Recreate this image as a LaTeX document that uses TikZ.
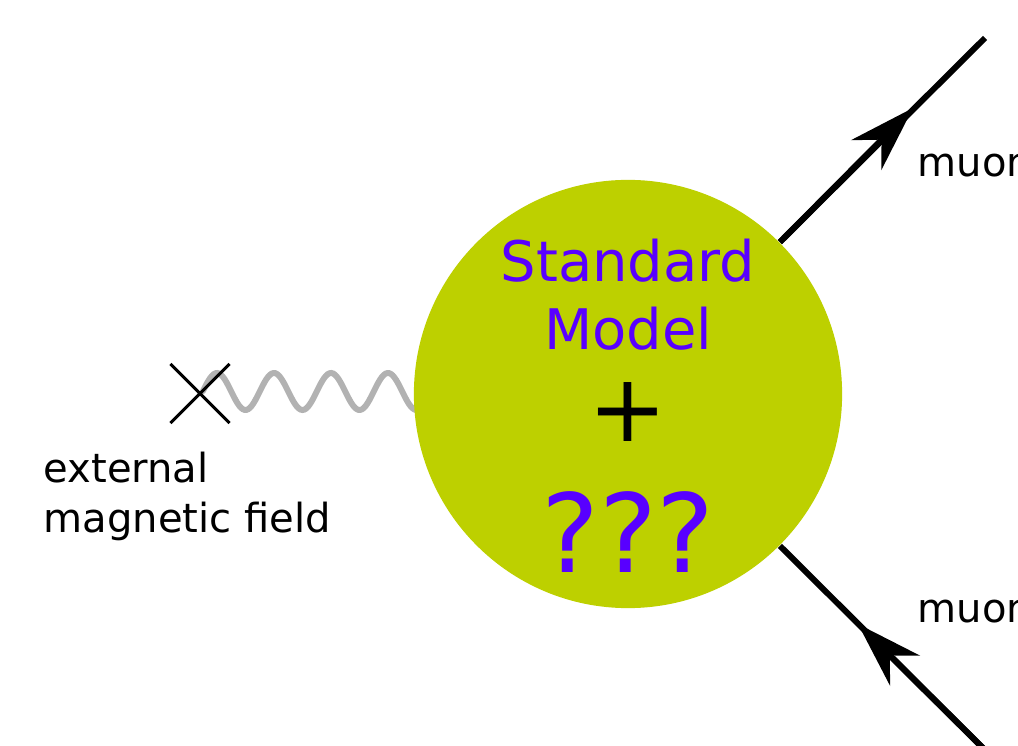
\documentclass[tikz,border=0pt]{standalone}
\usepackage{fontspec}
\setmainfont{DejaVu Sans}
\usetikzlibrary{arrows.meta,shapes.misc}
\definecolor{smgreen}{RGB}{189,208,0}
\definecolor{smpurple}{RGB}{88,0,255}
\definecolor{wavegray}{RGB}{178,178,178}
\begin{document}
\begin{tikzpicture}[x=0.01cm,y=-0.01cm,
  lbl/.style={font=\fontsize{11.4}{14.2}\selectfont,inner sep=0pt},
  fermion/.style={line width=1.7pt},
  tip/.style={-{Stealth[length=18.8pt,width=12pt]}}]
  \useasboundingbox (0,0) rectangle (1018,746);
  % photon from the external field
  \draw[wavegray,line width=1.7pt,line cap=round,domain=203:418,samples=120] plot (\x,{391.5-18.5*cos((\x-217)*6.3158)});
  \node[draw,cross out,line width=0.85pt,minimum size=0.56cm,inner sep=0pt] (src) at (200,393.5) {};
  % the blob
  \node[circle,fill=smgreen,minimum size=4.28cm,inner sep=0pt] (sm) at (628,394) {};
  \node[anchor=base,align=center,text=smpurple,font=\fontsize{15.9}{19.35}\selectfont,inner sep=0pt] (smtext) at (628,350) {Standard\\Model};
  \node[font=\fontsize{26.75}{30}\selectfont,inner sep=0pt] (plus) at (628,412) {+};
  \node[anchor=base,text=smpurple,font=\fontsize{31}{36}\selectfont,inner sep=0pt] (unknown) at (628,573) {???};
  % muon lines
  \coordinate (tipA) at (913,108);
  \coordinate (endA) at (985,38);
  \coordinate (tipB) at (858,624);
  \coordinate (endB) at (1000,765);
  \draw[fermion] (sm.45) -- (endA);
  \draw[fermion,tip] (sm.45) -- (tipA);
  \draw[fermion] (sm.-45) -- (endB);
  \draw[fermion,tip] (endB) -- (tipB);
  \node[lbl,anchor=base west] (muonA) at (917,177) {muon};
  \node[lbl,anchor=base west] (muonB) at (917,622) {muon};
  \node[lbl,anchor=base west,align=left] (field) at (43,532) {external\\magnetic field};
\end{tikzpicture}
\end{document}
